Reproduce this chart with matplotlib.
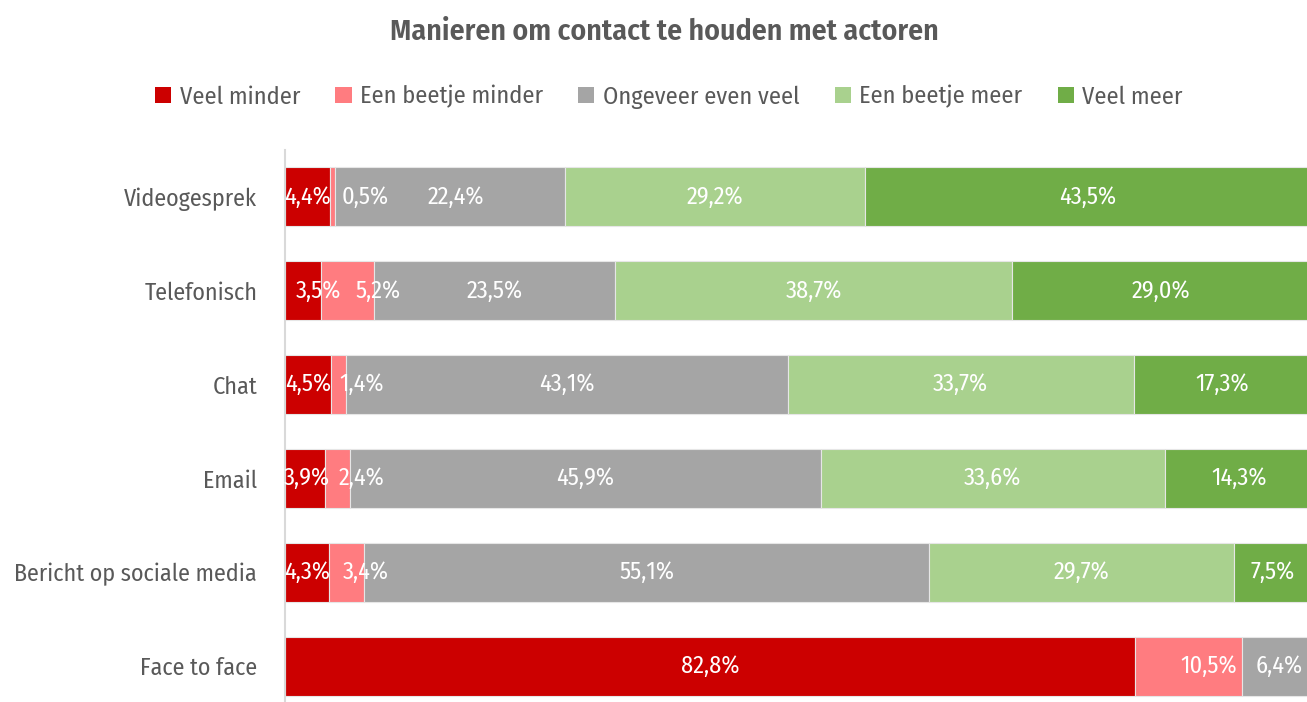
import matplotlib
matplotlib.use("Agg")
import matplotlib.pyplot as plt
import numpy as np

FONT = "Fira Sans Condensed"
plt.rcParams['font.family'] = [FONT, 'DejaVu Sans']

categories = ["Videogesprek", "Telefonisch", "Chat", "Email",
              "Bericht op sociale media", "Face to face"]
series = ["Veel minder", "Een beetje minder", "Ongeveer even veel",
          "Een beetje meer", "Veel meer"]
veel_minder = [4.4, 3.5, 4.5, 3.9, 4.3, 82.8]
beetje_minder = [0.5, 5.2, 1.4, 2.4, 3.4, 10.5]
even_veel = [22.4, 23.5, 43.1, 45.9, 55.1, 6.4]
beetje_meer = [29.2, 38.7, 33.7, 33.6, 29.7, 0.0]
veel_meer = [43.5, 29.0, 17.3, 14.3, 7.5, 0.0]

colors = ["#CC0000", "#FF7C80", "#A5A5A5", "#A9D18E", "#70AD47"]
# label nudges (percentage points) to mimic Excel's overlap avoidance
nudges = {(0, 1): 3.2, (0, 2): 0.6,
          (1, 0): 1.5, (1, 1): 3.0,
          (2, 1): 2.3,
          (3, 0): 0.2, (3, 1): 2.4,
          (4, 1): 1.9,
          (5, 1): 1.95, (5, 2): 0.4}

data = [veel_minder, beetje_minder, even_veel, beetje_meer, veel_meer]

fig = plt.figure(figsize=(13.07, 7.02), dpi=100)
ax = fig.add_axes([285 / 1307, -11 / 702, 1026 / 1307, 563 / 702])

y = np.arange(len(categories))
left = np.zeros(len(categories))
for si, (name, vals, col) in enumerate(zip(series, data, colors)):
    vals = np.array(vals)
    ax.barh(y, vals, left=left, height=0.63, color=col, label=name,
            edgecolor="#E6E6E6", linewidth=0.8, zorder=2)
    for ci, v in enumerate(vals):
        if v <= 0:
            continue
        cx = left[ci] + v / 2 + nudges.get((ci, si), 0.0)
        ax.text(cx, y[ci], f"{v:.1f}%".replace(".", ","), ha="center",
                va="center", color="white", fontsize=17.5, zorder=3)
    left += vals

ax.set_xlim(0, 100)
ax.set_ylim(len(categories) - 0.5, -0.5)
ax.set_yticks(y)
ax.set_yticklabels(categories, fontsize=17.3, color="#595959")
ax.tick_params(axis="y", length=0, pad=20)
ax.set_xticks([])
for s in ["top", "right", "bottom"]:
    ax.spines[s].set_visible(False)
ax.spines["left"].set_color("#D9D9D9")
ax.spines["left"].set_linewidth(1.5)

fig.text(664 / 1307, 1 - 32 / 702, "Manieren om contact te houden met actoren",
         ha="center", va="center", fontsize=21.5, fontweight="semibold", color="#595959")

handles, labels = ax.get_legend_handles_labels()
leg = fig.legend(handles, labels, loc="center", bbox_to_anchor=(669 / 1307, 1 - 97 / 702),
                 ncol=5, frameon=False, fontsize=17.5, handlelength=0.66, handleheight=0.66,
                 handletextpad=0.35, columnspacing=1.45, labelcolor="#595959")
for h in leg.legend_handles:
    h.set_edgecolor("none")

fig.savefig("out.png", dpi=100)
